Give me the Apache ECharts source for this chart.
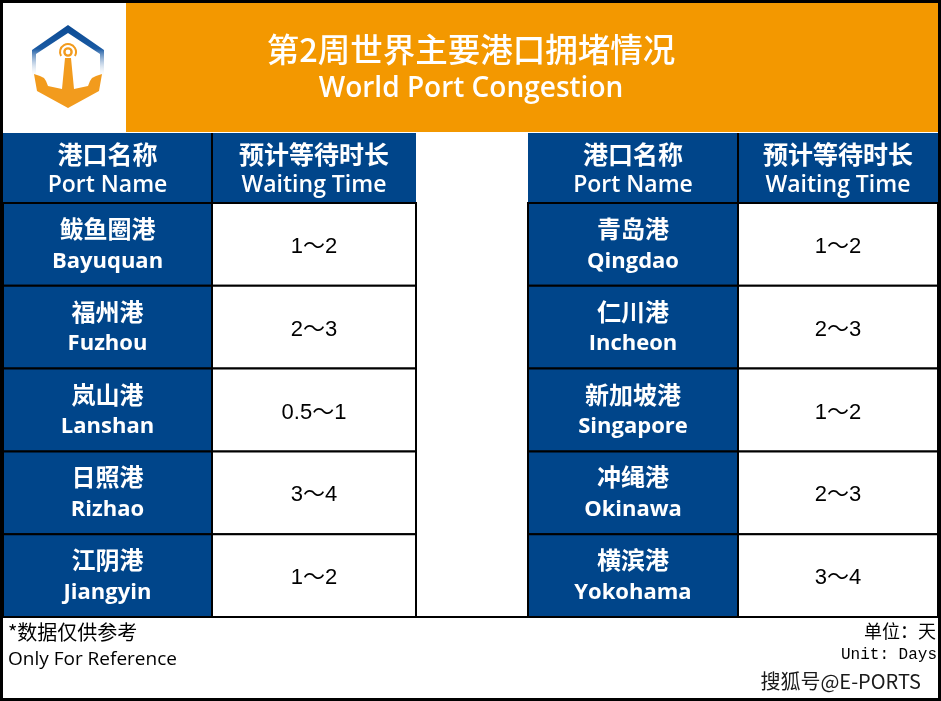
<!DOCTYPE html>
<html>
<head>
<meta charset="utf-8">
<script src="https://cdn.jsdelivr.net/npm/echarts@6/dist/echarts.min.js"></script>
<style>
html,body{margin:0;padding:0;background:#fff;}
#chart{width:941px;height:701px;}
</style>
</head>
<body>
<div id="chart"></div>
<script>
// ---------- DATA ----------
const titleCN = '第2周世界主要港口拥堵情况';
const titleEN = 'World Port Congestion';
const headerCN = ['港口名称', '预计等待时长'];
const headerEN = ['Port Name', 'Waiting Time'];

const leftPortsCN = ['鲅鱼圈港', '福州港', '岚山港', '日照港', '江阴港'];
const leftPortsEN = ['Bayuquan', 'Fuzhou', 'Lanshan', 'Rizhao', 'Jiangyin'];
const leftWaitMin = [1, 2, 0.5, 3, 1];
const leftWaitMax = [2, 3, 1, 4, 2];

const rightPortsCN = ['青岛港', '仁川港', '新加坡港', '冲绳港', '横滨港'];
const rightPortsEN = ['Qingdao', 'Incheon', 'Singapore', 'Okinawa', 'Yokohama'];
const rightWaitMin = [1, 2, 1, 2, 3];
const rightWaitMax = [2, 3, 2, 3, 4];

const noteCN = '*数据仅供参考';
const noteEN = 'Only For Reference';
const unitCN = '单位：天';
const unitEN = 'Unit: Days';
const watermark = '搜狐号@E-PORTS';

// ---------- LAYOUT (axis units) ----------
const LEFT_EDGES = [0, 209, 413];
const RIGHT_EDGES = [525, 735, 935];
const HEADER_H = 70 / 82.8;

const NAVY = '#00458A';
const ORANGE = '#F39800';
const LOGO_ORANGE = '#F29B1D';

// build cells from the arrays
const cells = [];
[0, 1].forEach(function (side) {
  cells.push({ value: [side, -1], header: true, cn: headerCN, en: headerEN });
});
leftPortsCN.forEach(function (cn, i) {
  cells.push({ value: [0, i], cn: cn, en: leftPortsEN[i], wait: leftWaitMin[i] + '～' + leftWaitMax[i] });
});
rightPortsCN.forEach(function (cn, i) {
  cells.push({ value: [1, i], cn: cn, en: rightPortsEN[i], wait: rightWaitMin[i] + '～' + rightWaitMax[i] });
});

const CN_FONT = "'Noto Sans CJK SC', sans-serif";
const EN_FONT = "'Open Sans', 'Noto Sans CJK SC', sans-serif";

function txt(text, x, y, font, size, weight, fill) {
  return {
    type: 'text',
    style: {
      text: text, x: x, y: y,
      fill: fill, fontFamily: font, fontSize: size, fontWeight: weight,
      align: 'center', verticalAlign: 'middle'
    }
  };
}

function renderItem(params, api) {
  const side = api.value(0), row = api.value(1);
  const item = cells[params.dataIndex];
  const edges = side === 0 ? LEFT_EDGES : RIGHT_EDGES;
  const isHeader = row < 0;
  const yTop = isHeader ? -HEADER_H : row;
  const yBot = isHeader ? 0 : row + 1;
  const a = api.coord([edges[0], yTop]);
  const b = api.coord([edges[1], yBot]);
  const c = api.coord([edges[2], yBot]);
  const h = b[1] - a[1];
  const cy = (a[1] + b[1]) / 2;
  const nameX = (a[0] + b[0]) / 2;
  const timeX = (b[0] + c[0]) / 2;
  const children = [];
  if (isHeader) {
    children.push({ type: 'rect', shape: { x: a[0], y: a[1], width: c[0] - a[0], height: h }, style: { fill: NAVY } });
    children.push({ type: 'line', shape: { x1: b[0], y1: a[1], x2: b[0], y2: b[1] }, style: { stroke: '#000', lineWidth: 2 } });
    children.push({ type: 'line', shape: { x1: a[0], y1: b[1], x2: c[0], y2: b[1] }, style: { stroke: '#000', lineWidth: 2 } });
    children.push(txt(item.cn[0], nameX, cy - 13.5, CN_FONT, 25, 'bold', '#fff'));
    children.push(txt(item.en[0], nameX, cy + 17, EN_FONT, 23, 600, '#fff'));
    children.push(txt(item.cn[1], timeX, cy - 13.5, CN_FONT, 25, 'bold', '#fff'));
    children.push(txt(item.en[1], timeX, cy + 17, EN_FONT, 23, 600, '#fff'));
  } else {
    children.push({ type: 'rect', shape: { x: a[0], y: a[1], width: b[0] - a[0], height: h }, style: { fill: NAVY, stroke: '#000', lineWidth: 2 } });
    children.push({ type: 'rect', shape: { x: b[0], y: a[1], width: c[0] - b[0], height: h }, style: { fill: '#fff', stroke: '#000', lineWidth: 2 } });
    children.push(txt(item.cn, nameX, cy - 15.5, CN_FONT, 24, 'bold', '#fff'));
    children.push(txt(item.en, nameX, cy + 17, EN_FONT, 22, 'bold', '#fff'));
    children.push(txt(item.wait, timeX, cy + 2.5, "'Liberation Sans', 'Noto Sans CJK SC', sans-serif", 22, 'normal', '#000'));
  }
  return { type: 'group', children: children };
}

// ---------- LOGO ----------
const logo = {
  type: 'group', z: 5,
  children: [
    {
      type: 'polygon',
      shape: { points: [[32, 76], [32, 50], [68, 25], [104, 50], [104, 76], [100, 76], [100, 54], [68, 33], [36, 54], [36, 76]] },
      style: {
        fill: {
          type: 'linear', x: 0, y: 25, x2: 0, y2: 78, global: true,
          colorStops: [
            { offset: 0, color: '#0B4A93' },
            { offset: 0.45, color: '#1A5AA3' },
            { offset: 1, color: 'rgba(255,255,255,0)' }
          ]
        }
      }
    },
    {
      type: 'polygon',
      shape: { points: [[34, 74], [40, 76], [44, 78], [46, 81], [48, 86], [62, 89], [65, 58], [71, 58], [74, 89], [88, 86], [90, 81], [92, 78], [96, 76], [102, 74], [99, 91], [68, 108], [37, 91]] },
      style: { fill: LOGO_ORANGE }
    },
    {
      type: 'circle', shape: { cx: 68, cy: 52, r: 3.6 },
      style: { fill: 'none', stroke: LOGO_ORANGE, lineWidth: 2.4 }
    },
    {
      type: 'arc', shape: { cx: 68, cy: 52, r: 8, startAngle: Math.PI * 150 / 180, endAngle: Math.PI * 390 / 180, clockwise: true },
      style: { fill: 'none', stroke: LOGO_ORANGE, lineWidth: 2 }
    }
  ]
};

const option = {
  backgroundColor: '#fff',
  animation: false,
  grid: { left: 3, top: 133, width: 935, height: 484 },
  xAxis: { type: 'value', min: 0, max: 935, show: false },
  yAxis: { type: 'value', min: -HEADER_H, max: 5, inverse: true, show: false },
  series: [{ type: 'custom', renderItem: renderItem, data: cells, clip: false, z: 3 }],
  graphic: [
    { type: 'rect', z: 1, shape: { x: 126, y: 2, width: 814, height: 130 }, style: { fill: ORANGE } },
    logo,
    { type: 'text', z: 5, style: { text: titleCN, x: 471, y: 50, fill: '#fff', fontFamily: CN_FONT, fontSize: 32.5, fontWeight: 500, align: 'center', verticalAlign: 'middle' } },
    { type: 'text', z: 5, style: { text: titleEN, x: 471, y: 89, fill: '#fff', fontFamily: EN_FONT, fontSize: 28, fontWeight: 600, align: 'center', verticalAlign: 'middle' } },
    { type: 'line', z: 10, shape: { x1: 0, y1: 617, x2: 941, y2: 617 }, style: { stroke: '#000', lineWidth: 2 } },
    { type: 'text', z: 5, style: { text: noteCN, x: 8, y: 632, fill: '#000', fontFamily: CN_FONT, fontSize: 20, align: 'left', verticalAlign: 'middle' } },
    { type: 'text', z: 5, style: { text: noteEN, x: 8, y: 660, fill: '#000', fontFamily: EN_FONT, fontSize: 19, align: 'left', verticalAlign: 'middle' } },
    { type: 'text', z: 5, style: { text: unitCN, x: 936, y: 631, fill: '#000', fontFamily: CN_FONT, fontSize: 18, align: 'right', verticalAlign: 'middle' } },
    { type: 'text', z: 5, style: { text: unitEN, x: 937, y: 655, fill: '#000', fontFamily: "'Liberation Mono', monospace", fontSize: 16, align: 'right', verticalAlign: 'middle' } },
    { type: 'text', z: 5, style: { text: watermark, x: 921, y: 681, fill: '#1a1a1a', fontFamily: CN_FONT, fontSize: 20, align: 'right', verticalAlign: 'middle', stroke: 'rgba(255,255,255,0.8)', lineWidth: 2 } },
    { type: 'rect', z: 100, shape: { x: 1.5, y: 1.5, width: 938, height: 698 }, style: { fill: 'none', stroke: '#000', lineWidth: 3 } }
  ]
};

const chart = echarts.init(document.getElementById('chart'));
chart.setOption(option);
</script>
</body>
</html>
